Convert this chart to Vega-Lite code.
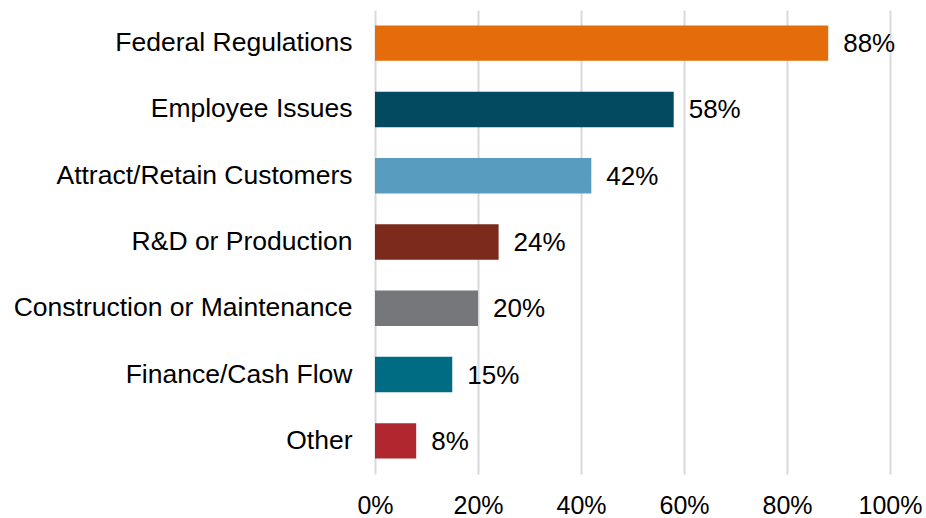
{
  "$schema": "https://vega.github.io/schema/vega-lite/v6.json",
  "width": 515,
  "height": 464,
  "autosize": {"type": "none"},
  "padding": {"left": 375, "top": 10, "right": 36, "bottom": 44},
  "background": "white",
  "config": {
    "view": {"stroke": null},
    "font": "Liberation Sans",
    "axis": {"labelFont": "Liberation Sans", "labelColor": "#000000"}
  },
  "data": {
    "values": [
      {"category": "Federal Regulations", "value": 0.88},
      {"category": "Employee Issues", "value": 0.58},
      {"category": "Attract/Retain Customers", "value": 0.42},
      {"category": "R&D or Production", "value": 0.24},
      {"category": "Construction or Maintenance", "value": 0.20},
      {"category": "Finance/Cash Flow", "value": 0.15},
      {"category": "Other", "value": 0.08}
    ]
  },
  "encoding": {
    "y": {
      "field": "category",
      "type": "nominal",
      "sort": null,
      "scale": {"paddingInner": 0.466, "paddingOuter": 0.233},
      "axis": {
        "title": null,
        "domain": false,
        "ticks": false,
        "tickSize": 0,
        "labelPadding": 23,
        "labelFontSize": 26.5,
        "labelLimit": 400,
        "grid": false
      }
    },
    "x": {
      "field": "value",
      "type": "quantitative",
      "scale": {"domain": [0, 1], "nice": false},
      "axis": {
        "title": null,
        "format": ".0%",
        "values": [0, 0.2, 0.4, 0.6, 0.8, 1.0],
        "domain": false,
        "ticks": false,
        "tickSize": 0,
        "labelPadding": 19,
        "labelFlush": false,
        "labelOverlap": false,
        "labelFontSize": 25,
        "grid": true,
        "gridColor": "#D9D9D9",
        "gridWidth": 2
      }
    }
  },
  "layer": [
    {
      "mark": {"type": "bar"},
      "encoding": {
        "color": {
          "field": "category",
          "type": "nominal",
          "legend": null,
          "scale": {
            "domain": ["Federal Regulations", "Employee Issues", "Attract/Retain Customers", "R&D or Production", "Construction or Maintenance", "Finance/Cash Flow", "Other"],
            "range": ["#E46C0A", "#03495F", "#589CBF", "#7B2A1B", "#76777B", "#006C84", "#B0272F"]
          }
        }
      }
    },
    {
      "mark": {"type": "text", "align": "left", "baseline": "middle", "dx": 15, "dy": 1, "fontSize": 26, "color": "#000000", "font": "Liberation Sans"},
      "encoding": {
        "text": {"field": "value", "type": "quantitative", "format": ".0%"}
      }
    }
  ]
}
